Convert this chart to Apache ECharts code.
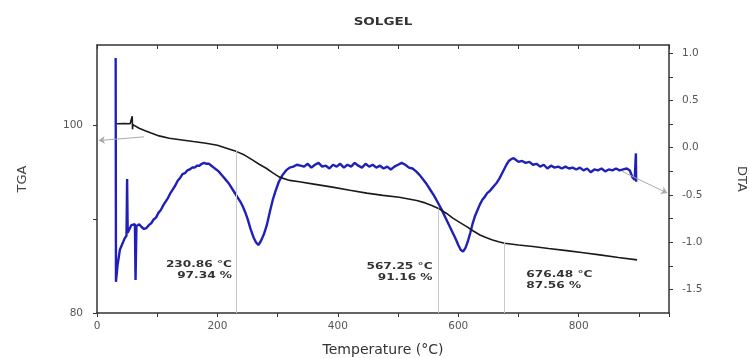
<!DOCTYPE html>
<html><head><meta charset="utf-8">
<script src="https://cdn.jsdelivr.net/npm/echarts@6/dist/echarts.min.js"></script>
<style>html,body{margin:0;padding:0;background:#fff}#c{width:749px;height:358px}</style>
</head><body><div id="c"></div>
<script>
const titleText = 'SOLGEL';
const xName = 'Temperature (°C)';
const yLeftName = 'TGA';
const yRightName = 'DTA';
const xTickLabels = [0, 200, 400, 600, 800];
const tgaTickLabels = [80, 100];
const dtaTickLabels = [-1.5, -1.0, -0.5, 0.0, 0.5, 1.0];

const tgaTemp = [33, 45, 55, 58, 58.5, 59, 59.5, 62, 70, 80, 90, 103, 120, 141, 160, 181, 200, 215, 231, 245, 258, 270, 281, 292, 303, 320, 336, 360, 391, 420, 448, 475, 502, 531, 545, 557, 567, 580, 591, 603, 614, 625, 636, 647, 657, 667, 677, 700, 724, 750, 780, 808, 835, 866, 897];
const tgaVal = [100.2, 100.22, 100.2, 100.2, 101.0, 99.6, 100.1, 100.05, 99.72, 99.45, 99.2, 98.9, 98.65, 98.47, 98.3, 98.12, 97.9, 97.59, 97.25, 96.85, 96.34, 95.85, 95.45, 94.95, 94.5, 94.15, 94.0, 93.75, 93.43, 93.1, 92.79, 92.55, 92.36, 92.0, 91.75, 91.45, 91.16, 90.65, 90.12, 89.65, 89.22, 88.75, 88.33, 88.02, 87.8, 87.6, 87.45, 87.25, 87.09, 86.88, 86.66, 86.43, 86.2, 85.93, 85.67];

const dtaTemp = [31, 31.5, 34, 38, 42, 46, 49, 50, 51, 54, 57, 60, 63, 64, 65.5, 70, 74, 78, 82, 86, 90, 94, 98, 102, 106, 110, 114, 118, 122, 126, 130, 134, 138, 142, 146, 150, 154, 158, 162, 166, 170, 174, 178, 182, 186, 190, 194, 198, 202, 206, 210, 214, 218, 222, 226, 230, 234, 238, 242, 246, 250, 255, 260, 264, 268, 272, 277, 282, 287, 292, 297, 302, 308, 314, 320, 326, 332, 338, 344, 350, 356, 362, 368, 374, 380, 386, 392, 398, 404, 410, 416, 422, 428, 434, 440, 446, 452, 458, 464, 470, 476, 482, 488, 494, 500, 506, 512, 518, 524, 530, 536, 542, 548, 554, 560, 566, 572, 578, 584, 590, 596, 600, 604, 608, 612, 616, 620, 624, 628, 632, 636, 640, 644, 648, 652, 656, 660, 664, 668, 672, 676, 680, 684, 688, 692, 696, 700, 706, 712, 718, 724, 730, 736, 742, 748, 754, 760, 766, 772, 778, 784, 790, 796, 802, 808, 814, 820, 826, 832, 838, 844, 850, 856, 862, 868, 874, 880, 885, 889, 893, 895, 895.5];
const dtaVal = [0.95, -1.42, -1.25, -1.08, -1.02, -0.96, -0.93, -0.33, -0.9, -0.86, -0.82, -0.84, -0.81, -1.4, -0.83, -0.81, -0.84, -0.86, -0.85, -0.82, -0.8, -0.76, -0.74, -0.69, -0.66, -0.61, -0.57, -0.53, -0.48, -0.44, -0.4, -0.35, -0.32, -0.28, -0.27, -0.24, -0.23, -0.21, -0.21, -0.19, -0.19, -0.17, -0.16, -0.17, -0.17, -0.19, -0.21, -0.23, -0.25, -0.28, -0.31, -0.34, -0.37, -0.41, -0.45, -0.49, -0.53, -0.57, -0.62, -0.68, -0.75, -0.86, -0.95, -1.0, -1.03, -0.99, -0.92, -0.82, -0.68, -0.55, -0.45, -0.36, -0.29, -0.24, -0.21, -0.2, -0.18, -0.19, -0.2, -0.17, -0.21, -0.18, -0.16, -0.2, -0.19, -0.22, -0.18, -0.2, -0.17, -0.21, -0.18, -0.2, -0.16, -0.19, -0.21, -0.17, -0.2, -0.18, -0.21, -0.19, -0.22, -0.2, -0.23, -0.2, -0.18, -0.16, -0.18, -0.21, -0.22, -0.25, -0.29, -0.34, -0.39, -0.45, -0.51, -0.58, -0.65, -0.73, -0.81, -0.89, -0.97, -1.03, -1.08, -1.1, -1.06, -0.99, -0.9, -0.8, -0.72, -0.66, -0.6, -0.55, -0.52, -0.48, -0.46, -0.43, -0.4, -0.37, -0.33, -0.28, -0.23, -0.18, -0.14, -0.12, -0.11, -0.13, -0.15, -0.14, -0.16, -0.15, -0.18, -0.17, -0.2, -0.18, -0.22, -0.19, -0.21, -0.2, -0.22, -0.2, -0.22, -0.21, -0.23, -0.21, -0.24, -0.22, -0.26, -0.23, -0.24, -0.22, -0.25, -0.23, -0.24, -0.22, -0.24, -0.23, -0.22, -0.24, -0.31, -0.34, -0.06, -0.36];

const eventTemp = [230.86, 567.25, 676.48];
const eventMass = [97.34, 91.16, 87.56];
const eventText = ['230.86 °C\n97.34 %', '567.25 °C\n91.16 %', '676.48 °C\n87.56 %'];
const tgaArrow = [[78, 98.8], [3, 98.4]];
const dtaArrow = [[872, -0.25], [947, -0.48]];

const zip = (a, b) => a.map((v, i) => [v, b[i]]);
const labelColor = '#555';
const axisColor = '#333';
const font = 'DejaVu Sans';

const chart = echarts.init(document.getElementById('c'));
const option = {
  animation: false,
  backgroundColor: '#fff',
  grid: { left: 97, right: 80, top: 45, bottom: 45, containLabel: false, outerBoundsMode: 'none' },
  xAxis: [{
    type: 'value', min: 0, max: 950, interval: 100,
    name: xName, nameLocation: 'middle', nameGap: 30,
    nameTextStyle: { fontFamily: font, fontSize: 14, color: '#333' },
    axisLine: { show: true, onZero: false, lineStyle: { color: axisColor, width: 1.5 } },
    axisTick: { show: true, length: 4, lineStyle: { color: axisColor } },
    axisLabel: { fontFamily: font, fontSize: 10.5, color: labelColor, margin: 8,
      formatter: v => xTickLabels.includes(v) ? String(v) : '' },
    splitLine: { show: false }
  }, {
    type: 'value', position: 'top', min: 0, max: 950, interval: 100,
    axisLine: { show: true, onZero: false, lineStyle: { color: axisColor, width: 1.5 } },
    axisTick: { show: true, inside: true, length: 4, lineStyle: { color: axisColor } },
    axisLabel: { show: false }, splitLine: { show: false }
  }],
  yAxis: [{
    type: 'value', min: 80, max: 108.6, interval: 10,
    name: yLeftName, nameLocation: 'middle', nameGap: 68, nameRotate: 90,
    nameTextStyle: { fontFamily: font, fontSize: 13, color: '#444' },
    axisLine: { show: true, onZero: false, lineStyle: { color: axisColor, width: 1.5 } },
    axisTick: { show: true, length: 4, lineStyle: { color: axisColor } },
    axisLabel: { fontFamily: font, fontSize: 10.5, color: labelColor, margin: 14, showMaxLabel: false,
      formatter: v => tgaTickLabels.includes(v) ? String(v) : '' },
    splitLine: { show: false }
  }, {
    type: 'value', position: 'right', min: -1.75, max: 1.088, interval: 0.25,
    name: yRightName, nameLocation: 'middle', nameGap: 66, nameRotate: -90,
    nameTextStyle: { fontFamily: font, fontSize: 13, color: '#444' },
    axisLine: { show: true, onZero: false, lineStyle: { color: axisColor, width: 1.5 } },
    axisTick: { show: true, length: 4, lineStyle: { color: axisColor } },
    axisLabel: { fontFamily: font, fontSize: 10.5, color: labelColor, margin: 13, showMaxLabel: false, showMinLabel: false,
      formatter: v => { const r = Math.round(v * 100) / 100; return dtaTickLabels.some(t => Math.abs(t - r) < 1e-6) ? r.toFixed(1) : ''; } },
    splitLine: { show: false }
  }],
  series: [{
    type: 'line', name: 'TGA', xAxisIndex: 0, yAxisIndex: 0,
    data: zip(tgaTemp, tgaVal), showSymbol: false, symbol: 'none',
    lineStyle: { color: '#1a1a1a', width: 1.6 }, z: 3,
    markLine: {
      silent: true, symbol: 'none',
      lineStyle: { color: '#c8c8c8', width: 1, type: 'solid' },
      label: { show: false },
      data: eventTemp.map((t, i) => [{ coord: [t, eventMass[i]] }, { coord: [t, 80] }])
        .concat([[{ coord: tgaArrow[0], symbol: 'none' }, { coord: tgaArrow[1], symbol: 'arrow', symbolSize: 6, lineStyle: { color: '#aaa' } }]])
    }
  }, {
    type: 'line', name: 'DTA', xAxisIndex: 0, yAxisIndex: 1,
    data: zip(dtaTemp, dtaVal), showSymbol: false, symbol: 'none',
    lineStyle: { color: '#2020b8', width: 2.4 }, z: 2,
    markLine: {
      silent: true, symbol: ['none', 'arrow'], symbolSize: 6,
      lineStyle: { color: '#aaa', width: 1, type: 'solid' },
      label: { show: false },
      data: [[{ coord: dtaArrow[0] }, { coord: dtaArrow[1] }]]
    }
  }]
};
chart.setOption(option);

const ex = eventTemp.map(t => chart.convertToPixel({ xAxisIndex: 0 }, t));
const ann = [
  { x: ex[0] - 4, y: 259, align: 'right' },
  { x: ex[1] - 6, y: 261, align: 'right' },
  { x: ex[2] + 22, y: 269, align: 'left' }
];
chart.setOption({
  graphic: [{
    type: 'text', x: 383, y: 17, scaleX: 1.35,
    style: { text: titleText, font: 'bold 10px "DejaVu Sans"', fill: '#333', align: 'center', verticalAlign: 'top' }
  }].concat(eventText.map((s, i) => ({
    type: 'text', x: ann[i].x, y: ann[i].y, scaleX: 1.35,
    style: { text: s, font: 'bold 9px "DejaVu Sans"', lineHeight: 11, fill: '#333', align: ann[i].align, verticalAlign: 'top' }
  })))
});
</script></body></html>
